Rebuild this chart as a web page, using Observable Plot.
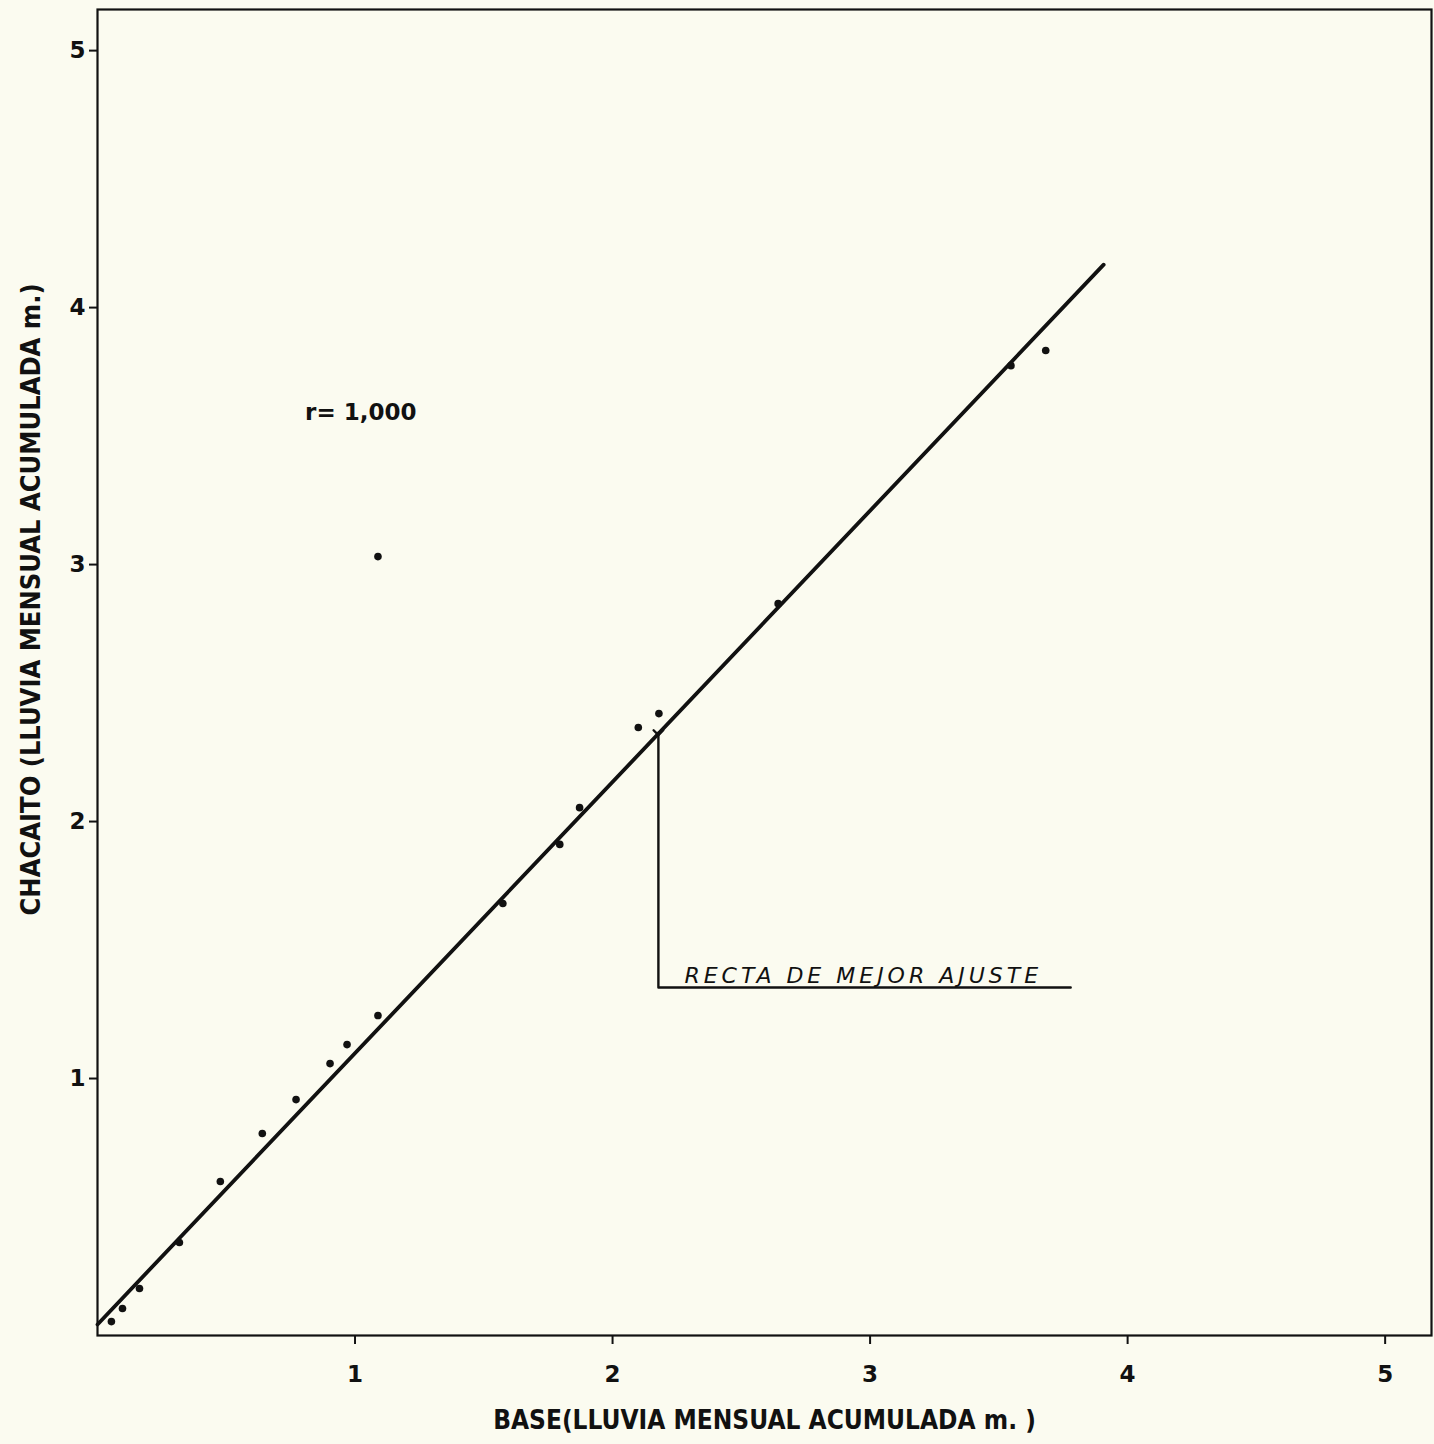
<!DOCTYPE html>
<html>
<head>
<meta charset="utf-8">
<script src="https://cdn.jsdelivr.net/npm/d3@7"></script>
<script src="https://cdn.jsdelivr.net/npm/@observablehq/plot@0.6"></script>
<style>
  html, body { margin: 0; padding: 0; background: #fbfbf0; }
  #chart svg { display: block; background: #fbfbf0; }
  .spaced text { letter-spacing: 4px; }
</style>
</head>
<body>
<div id="chart"></div>
<script>
// Observed points (BASE vs CHACAITO, cumulative monthly rainfall, m)
const baseValues = [0.054, 0.097, 0.163, 0.318, 0.477, 0.640, 0.771, 0.903, 0.969, 1.089, 1.089, 1.574, 1.795, 1.872, 2.100, 2.180, 2.643, 3.547, 3.682];
const chacaitoValues = [0.054, 0.105, 0.183, 0.362, 0.599, 0.786, 0.918, 1.058, 1.132, 1.245, 3.031, 1.681, 1.911, 2.054, 2.366, 2.420, 2.848, 3.774, 3.833];

// Best-fit line end points
const fitX = [0, 3.907];
const fitY = [0.043, 4.167];

// Leader line for the annotation
const leaderX = [2.178, 2.178, 3.779];
const leaderY = [2.346, 1.354, 1.354];

const xTicks = [1, 2, 3, 4, 5];
const yTicks = [1, 2, 3, 4, 5];

const xTitle = "BASE(LLUVIA MENSUAL ACUMULADA m. )";
const yTitle = "CHACAITO (LLUVIA MENSUAL ACUMULADA m.)";
const rLabel = "r= 1,000";
const fitLabel = "RECTA DE MEJOR AJUSTE";

const points = baseValues.map((x, i) => ({x, y: chacaitoValues[i]}));
const fitLine = fitX.map((x, i) => ({x, y: fitY[i]}));
const leader = leaderX.map((x, i) => ({x, y: leaderY[i]}));

const condensed = "'DejaVu Sans Condensed', 'DejaVu Sans', sans-serif";
const sans = "'DejaVu Sans', Verdana, sans-serif";

const chart = Plot.plot({
  width: 1434,
  height: 1444,
  marginLeft: 97,
  marginRight: 3,
  marginTop: 9,
  marginBottom: 109,
  style: {background: "#fbfbf0", color: "#111", fontFamily: sans},
  x: {domain: [0, 5.18]},
  y: {domain: [0, 5.16]},
  marks: [
    Plot.frame({stroke: "#111", strokeWidth: 2.2}),
    Plot.axisX({ticks: xTicks, tickSize: 9, tickPadding: 21, fontSize: 23, fontWeight: "bold", tickFormat: d => String(d), label: null, strokeWidth: 2}),
    Plot.axisY({ticks: yTicks, tickSize: 8, tickPadding: 4, fontSize: 23, fontWeight: "bold", tickFormat: d => String(d), label: null, strokeWidth: 2}),
    Plot.text([xTitle], {frameAnchor: "bottom", dy: 93, fontSize: 26, fontWeight: "bold", fontFamily: condensed, fill: "#111", textAnchor: "middle"}),
    Plot.text([yTitle], {frameAnchor: "left", dx: -66, dy: -73, rotate: -90, fontSize: 27, fontWeight: "bold", fontFamily: condensed, fill: "#111", textAnchor: "middle"}),
    Plot.line(fitLine, {x: "x", y: "y", stroke: "#111", strokeWidth: 3.8}),
    Plot.line(leader, {x: "x", y: "y", stroke: "#111", strokeWidth: 2.4, markerStart: "arrow"}),
    Plot.dot(points, {x: "x", y: "y", r: 3.8, fill: "#111", stroke: "none"}),
    Plot.text([rLabel], {x: [0.806], y: [3.59], textAnchor: "start", fontSize: 23, fontWeight: "bold", fontFamily: sans, fill: "#111"}),
    Plot.text([fitLabel], {x: [2.279], y: [1.40], textAnchor: "start", fontSize: 22, fontStyle: "italic", fontFamily: sans, fill: "#111", className: "spaced"})
  ]
});

document.getElementById("chart").appendChild(chart);
</script>
</body>
</html>
